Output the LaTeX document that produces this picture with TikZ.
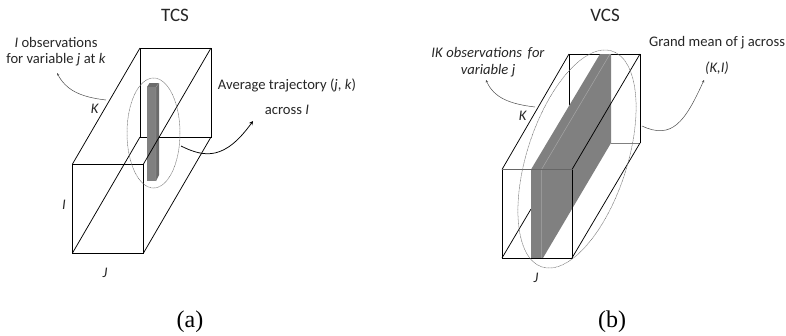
\documentclass[tikz,border=0pt]{standalone}
\usepackage{fontspec}
\setmainfont{Carlito}
\newfontfamily\capfont{Liberation Serif}
\usetikzlibrary{arrows.meta}
\tikzset{
    lbl/.style={font=\fontsize{14.6}{16}\selectfont, inner sep=0pt, text=black!85},
    ttl/.style={font=\fontsize{19}{21}\selectfont, inner sep=0pt, text=black!85},
    captxt/.style={font=\capfont\fontsize{24}{26}\selectfont, inner sep=0pt},
    boxedge/.style={black, line width=.75pt},
    halo/.style={black!55, line width=.5pt, dash pattern=on .9pt off .5pt},
    pointer/.style={->, black!70, line width=.5pt, >={Stealth[length=2.6pt,width=2.4pt]}}
}
\begin{document}
\begin{tikzpicture}[x=1pt, y=-1pt]
\useasboundingbox (0,0) rectangle (786,335);
% (a)
\draw[boxedge](140,137)--(140,48)--(211,48)--(211,137)--cycle;
\draw[boxedge](72.5,253)--(140,137);
\fill[black!58](147,87)--(149.5,83)--(159,83)--(159,175)--(156,181)--(156,87)--cycle;
\fill[black!50](147,87) rectangle (156,181);
\draw[black!35, line width=.3pt](156,87)--(156,181) (156,87)--(159,83);
\draw[boxedge](72.5,164) rectangle (143.5,253);
\draw[boxedge](72.5,164)--(140,48);
\draw[boxedge](143.5,164)--(211,48);
\draw[boxedge](143.5,253)--(211,137);
\draw[halo](153.5,133) ellipse [x radius=26.5, y radius=55];
\node[ttl] (tcs) at (175,15) {TCS};
\node[lbl] (obsa) at (56,42) {\textit{I} observations};
\node[lbl] (obsb) at (56,60) {for variable \textit{j} at \textit{k}};
\node[lbl] (avga) at (287,85) {Average trajectory (\textit{j}, \textit{k})};
\node[lbl] (avgb) at (287,110) {across \textit{I}};
\node[lbl] (ka) at (95,109) {\textit{K}};
\node[lbl] (ia) at (64,205) {\textit{I}};
\node[lbl] (ja) at (105,273) {\textit{J}};
\node[captxt] (capa) at (190,322) {(a)};
\coordinate (taila) at (106,100);
\coordinate (heada) at (57,73);
\coordinate (tailb) at (181,146);
\coordinate (headb) at (253,121);
\draw[pointer] (taila) .. controls (80,97) and (66,90) .. (heada);
\draw[->, line width=.75pt, >={Stealth[length=4pt,width=4pt]}] (tailb) .. controls (205,158) and (225,160) .. (headb);
% (b)
\draw[boxedge](569,105)--(569,54)--(640,54)--(640,143);
\draw[black!50, line width=1pt](611,143)--(640,143);
\draw[boxedge](502,258)--(531,209);
\fill[black!50](531,169.5)--(600,54)--(611,54)--(611,143)--(543,258)--(531,258)--cycle;
\draw[black!35, line width=.5pt](541.5,258)--(541.5,169.5)--(610,54);
\draw[boxedge](502,169.5)--(569,54);
\draw[boxedge](572,169.5)--(640,54);
\draw[boxedge](572,258)--(640,143);
\draw[boxedge](572,169.5)--(572,258)--(502,258)--(502,169.5);
\draw[black!60, line width=1pt](502,169.5)--(572,169.5);
\draw[halo, rotate around={-18:(577,159)}](577,159) ellipse [x radius=50, y radius=113.5];
\node[ttl] (vcs) at (605,15) {VCS};
\node[lbl] (obsc) at (488,53) {\textit{IK} \textit{observations\, for}};
\node[lbl] (obsd) at (488,71) {\textit{variable j}};
\node[lbl] (mena) at (717,43) {Grand mean of j across};
\node[lbl] (menb) at (717,68) {\textit{(K,I)}};
\node[lbl] (kb) at (523,116) {\textit{K}};
\node[lbl] (jb) at (536,278) {\textit{J}};
\node[captxt] (capb) at (612,322) {(b)};
\coordinate (tailc) at (535,107);
\coordinate (headc) at (486,80);
\coordinate (taild) at (642,126);
\coordinate (headd) at (704,80);
\draw[pointer] (tailc) .. controls (510,104) and (494,98) .. (headc);
\draw[pointer] (taild) .. controls (672,140) and (685,122) .. (headd);
\end{tikzpicture}
\end{document}
